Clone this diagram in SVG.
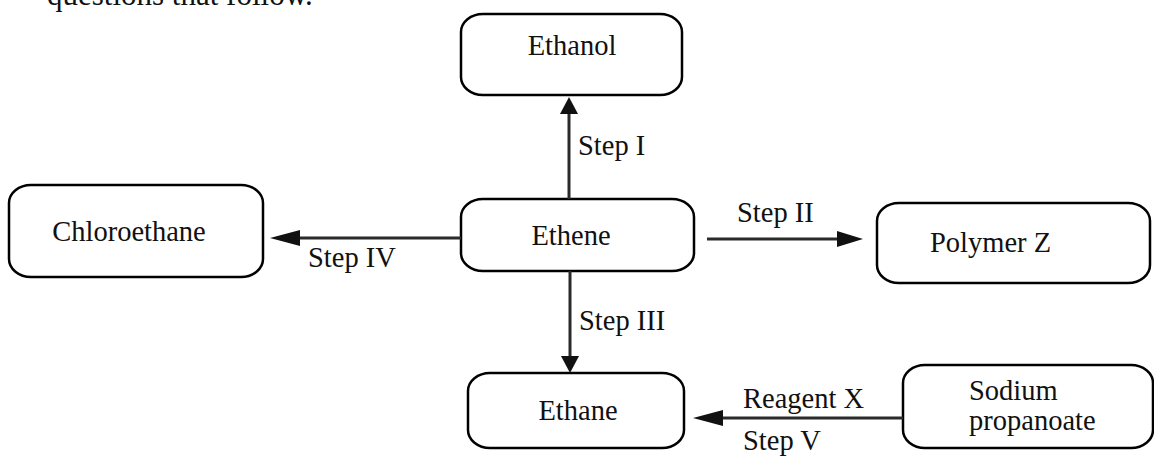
<svg xmlns="http://www.w3.org/2000/svg" width="1154" height="459" viewBox="0 0 1154 459">
<style>
.box{fill:#fff;stroke:#000;stroke-width:2.5}
.t{font-family:"Liberation Serif","Times New Roman",serif;font-size:28.5px;fill:#111}
.c{text-anchor:middle}
.ln{stroke:#2a2a2a;stroke-width:3;fill:none}
.ah{fill:#111}
</style>
<rect width="1154" height="459" fill="#fff"/>
<text class="t" x="47" y="5" style="font-size:31px">questions that follow.</text>
<g id="ethanol"><rect class="box" x="461" y="14" width="221" height="81" rx="22" ry="18"/><text class="t c" x="572" y="55">Ethanol</text></g>
<g id="ethene"><rect class="box" x="461" y="199" width="233" height="72" rx="22" ry="18"/><text class="t c" x="571" y="245">Ethene</text></g>
<g id="chloroethane"><rect class="box" x="9" y="185" width="254" height="92" rx="22" ry="18"/><text class="t c" x="129" y="241">Chloroethane</text></g>
<g id="polymer"><rect class="box" x="877" y="203" width="273" height="80" rx="22" ry="18"/><text class="t" x="930" y="252">Polymer Z</text></g>
<g id="ethane"><rect class="box" x="468" y="373" width="216" height="75" rx="22" ry="18"/><text class="t c" x="578" y="420">Ethane</text></g>
<g id="sodium"><rect class="box" x="903" y="365" width="250" height="83" rx="22" ry="18"/><text class="t" x="969" y="400">Sodium</text><text class="t" x="969" y="430">propanoate</text></g>
<g id="connectors">
<line class="ln" x1="569" y1="199" x2="569" y2="110"/><polygon class="ah" points="569,97 560,114 578,114"/>
<text class="t" x="578" y="155">Step I</text>
<line class="ln" x1="461" y1="238" x2="295" y2="238"/><polygon class="ah" points="270,238 300,230 300,246"/>
<text class="t" x="308" y="267">Step IV</text>
<line class="ln" x1="707" y1="239" x2="843" y2="239"/><polygon class="ah" points="863,239 837,231 837,247"/>
<text class="t" x="737" y="222">Step II</text>
<line class="ln" x1="570" y1="271" x2="570" y2="358"/><polygon class="ah" points="570,373 561,356 579,356"/>
<text class="t" x="579" y="330">Step III</text>
<line class="ln" x1="903" y1="418" x2="718" y2="418"/><polygon class="ah" points="693,418 723,410 723,426"/>
<text class="t" x="743" y="408">Reagent X</text>
<text class="t" x="743" y="450">Step V</text>
</g>
</svg>
